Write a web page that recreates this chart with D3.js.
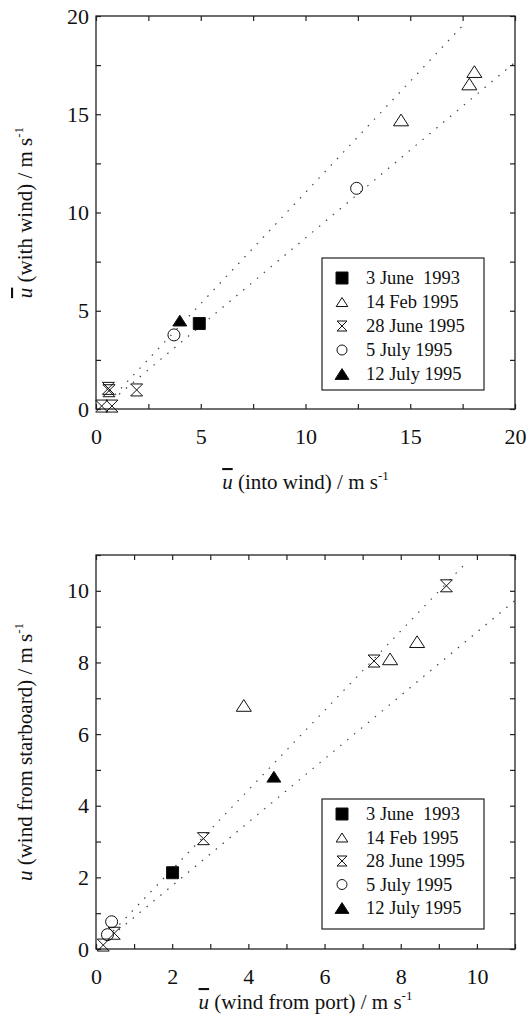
<!DOCTYPE html>
<html>
<head>
<meta charset="utf-8">
<script src="https://cdn.jsdelivr.net/npm/d3@7"></script>
<style>
  body { margin: 0; background: #fff; }
</style>
</head>
<body>
<div id="chart"></div>
<script>
// series names, in legend order
var seriesNames = ["3 June\u00a0 1993", "14 Feb 1995", "28 June 1995", "5 July 1995", "12 July 1995"];
var seriesKinds = ["square", "triangleOpen", "hourglass", "circle", "triangleFilled"];

// top panel: [u into wind, u with wind]
var topJune1993 = [[4.93, 4.35]];
var topFeb1995 = [[14.56, 14.71], [17.82, 16.54], [18.06, 17.17]];
var topJune1995 = [[0.59, 1.05], [0.62, 0.93], [1.94, 0.97], [0.27, 0.15], [0.76, 0.15]];
var topJuly5 = [[3.72, 3.77], [12.44, 11.23]];
var topJuly12 = [[4.0, 4.5]];
var topFitLines = [[[0.9, 0.72], [17.65, 19.68]], [[1.1, 0.75], [19.95, 17.6]]];
var topTickLabels = [0, 5, 10, 15, 20];
var topTicks = [0, 2.5, 5, 7.5, 10, 12.5, 15, 17.5, 20];

// bottom panel: [u wind from port, u wind from starboard]
var botJune1993 = [[2.01, 2.13]];
var botFeb1995 = [[3.88, 6.8], [7.72, 8.1], [8.43, 8.58]];
var botJune1995 = [[9.2, 10.14], [7.3, 8.04], [2.82, 3.08], [0.19, 0.11], [0.48, 0.44]];
var botJuly5 = [[0.41, 0.76], [0.3, 0.4]];
var botJuly12 = [[4.67, 4.81]];
var botFitLines = [[[0.45, 0.5], [9.75, 10.82]], [[0.6, 0.53], [11, 9.73]]];
var botTickLabels = [0, 2, 4, 6, 8, 10];
var botTicks = [0, 1, 2, 3, 4, 5, 6, 7, 8, 9, 10, 11];

var width = 529,
    height = 1023,
    serif = "'Liberation Serif', 'Times New Roman', serif";

var svg = d3.select("#chart").append("svg")
    .attr("width", width)
    .attr("height", height)
    .attr("font-family", serif);

var panels = [
  {
    series: [topJune1993, topFeb1995, topJune1995, topJuly5, topJuly12],
    fits: topFitLines,
    x: d3.scaleLinear().domain([0, 20]).range([96, 515]),
    y: d3.scaleLinear().domain([0, 20]).range([409, 16]),
    ticks: topTicks, labels: topTickLabels,
    legend: {x: 322, y: 258, w: 162, h: 132, row: 24, first: 20},
    xTitle: ["u", " (into wind) / m s", "-1"], xTitleY: 489, xBar: true,
    yTitle: ["u", " (with wind) / m s", "-1"], yBar: true
  },
  {
    series: [botJune1993, botFeb1995, botJune1995, botJuly5, botJuly12],
    fits: botFitLines,
    x: d3.scaleLinear().domain([0, 11]).range([96, 515]),
    y: d3.scaleLinear().domain([0, 11]).range([949, 555]),
    ticks: botTicks, labels: botTickLabels,
    legend: {x: 322, y: 799, w: 162, h: 130, row: 23.5, first: 15},
    xTitle: ["u", " (wind from port) / m s", "-1"], xTitleY: 1009, xBar: true,
    yTitle: ["u", " (wind from starboard) / m s", "-1"], yBar: false
  }
];

// marker shapes, centred on their bounding box
function markerPath(kind, s) {
  var p = d3.path(), h = s / 2;
  if (kind == "square") {
    p.rect(-h, -h, s, s);
  } else if (kind == "circle") {
    p.arc(0, 0, h, 0, 2 * Math.PI);
  } else if (kind == "hourglass") {
    p.moveTo(-h, -h); p.lineTo(h, -h); p.lineTo(-h, h); p.lineTo(h, h); p.closePath();
  } else {
    var w = s * 0.58, t = s * 0.45;
    p.moveTo(0, -t); p.lineTo(w, t); p.lineTo(-w, t); p.closePath();
  }
  return p.toString();
}

function drawMarker(g, kind, s) {
  var filled = (kind == "square" || kind == "triangleFilled");
  g.append("path")
      .attr("d", markerPath(kind, s))
      .attr("fill", filled ? "#000" : "none")
      .attr("stroke", "#111")
      .attr("stroke-width", 1);
}

function addTitle(t, parts, bar) {
  t.append("tspan")
      .attr("font-style", "italic")
      .style("text-decoration", bar ? "overline" : "none")
      .text(parts[0]);
  t.append("tspan").text(parts[1]);
  t.append("tspan")
      .attr("font-size", 13)
      .attr("dy", -9)
      .text(parts[2]);
}

panels.forEach(function(pn) {
  var g = svg.append("g");
  var x = pn.x, y = pn.y;
  var x0 = x.range()[0], x1 = x.range()[1], y0 = y.range()[1], y1 = y.range()[0];

  var fmt = function(d) { return pn.labels.indexOf(d) >= 0 ? d : ""; };

  var axes = [
    g.append("g").attr("transform", "translate(0," + y1 + ")")
      .call(d3.axisBottom(x).tickValues(pn.ticks).tickSize(-5).tickPadding(19).tickFormat(fmt)),
    g.append("g").attr("transform", "translate(" + x0 + ",0)")
      .call(d3.axisLeft(y).tickValues(pn.ticks).tickSize(-5).tickPadding(7).tickFormat(fmt)),
    g.append("g").attr("transform", "translate(0," + y0 + ")")
      .call(d3.axisTop(x).tickValues(pn.ticks).tickSize(-5).tickFormat("")),
    g.append("g").attr("transform", "translate(" + x1 + ",0)")
      .call(d3.axisRight(y).tickValues(pn.ticks).tickSize(-5).tickFormat(""))
  ];
  axes.forEach(function(a) {
    a.attr("font-family", serif).attr("font-size", 22);
    a.select(".domain").remove();
    a.selectAll("line").attr("stroke", "#222").attr("stroke-width", 1.2);
    a.selectAll("text").attr("fill", "#111");
  });

  // frame
  g.append("rect")
      .attr("x", x0).attr("y", y0)
      .attr("width", x1 - x0).attr("height", y1 - y0)
      .attr("fill", "none")
      .attr("stroke", "#222")
      .attr("stroke-width", 1.3);

  // dotted fit lines
  var line = d3.line().x(d => x(d[0])).y(d => y(d[1]));
  g.selectAll(".fit")
      .data(pn.fits)
      .enter().append("path")
      .attr("class", "fit")
      .attr("d", line)
      .attr("fill", "none")
      .attr("stroke", "#444")
      .attr("stroke-width", 1.2)
      .attr("stroke-dasharray", "1.5,7.5");

  // data points
  pn.series.forEach(function(pts, i) {
    var kind = seriesKinds[i];
    var size = kind == "triangleOpen" ? 13 : 12;
    pts.forEach(function(d) {
      var m = g.append("g").attr("transform", "translate(" + x(d[0]) + "," + y(d[1]) + ")");
      drawMarker(m, kind, size);
    });
  });

  // legend
  var L = pn.legend;
  var lg = g.append("g").attr("transform", "translate(" + L.x + "," + L.y + ")");
  lg.append("rect")
      .attr("width", L.w).attr("height", L.h)
      .attr("fill", "#fff")
      .attr("stroke", "#222")
      .attr("stroke-width", 1.2);
  seriesNames.forEach(function(name, i) {
    var cy = L.first + i * L.row;
    var m = lg.append("g").attr("transform", "translate(20," + cy + ")");
    drawMarker(m, seriesKinds[i], seriesKinds[i] == "square" || seriesKinds[i] == "triangleFilled" ? 12 : 10);
    lg.append("text")
        .attr("x", 44)
        .attr("y", cy + 6)
        .attr("font-size", 18.5)
        .attr("fill", "#111")
        .style("white-space", "pre")
        .text(name);
  });

  // axis titles
  var xt = g.append("text")
      .attr("x", (x0 + x1) / 2)
      .attr("y", pn.xTitleY)
      .attr("text-anchor", "middle")
      .attr("font-size", 21)
      .attr("fill", "#111");
  addTitle(xt, pn.xTitle, pn.xBar);

  var yt = g.append("text")
      .attr("transform", "translate(32," + (y0 + y1) / 2 + ") rotate(-90)")
      .attr("text-anchor", "middle")
      .attr("font-size", 21)
      .attr("fill", "#111");
  addTitle(yt, pn.yTitle, pn.yBar);
});
</script>
</body>
</html>
